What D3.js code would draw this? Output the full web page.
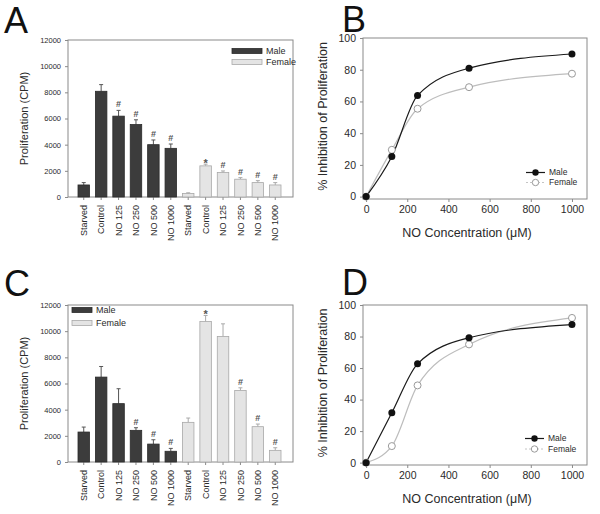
<!DOCTYPE html>
<html>
<head>
<meta charset="utf-8">
<script src="https://cdn.jsdelivr.net/npm/d3@7"></script>
<style>
  body { margin: 0; background: #fff; }
  svg { font-family: "Liberation Sans", Arial, sans-serif; }
</style>
</head>
<body>
<div id="chart"></div>
<script>
// bar categories
const barLabels = ["Starved", "Control", "NO 125", "NO 250", "NO 500", "NO 1000"];
const yTicksBar = [0, 2000, 4000, 6000, 8000, 10000, 12000];

// panel A
const aMale = [920, 8080, 6180, 5540, 4000, 3720];
const aMaleErr = [180, 510, 440, 360, 360, 330];
const aMaleMark = ["", "", "#", "#", "#", "#"];
const aFemale = [260, 2380, 1870, 1360, 1100, 920];
const aFemaleErr = [60, 130, 120, 120, 150, 180];
const aFemaleMark = ["", "*", "#", "#", "#", "#"];

// panel C
const cMale = [2290, 6490, 4460, 2420, 1370, 820];
const cMaleErr = [380, 810, 1140, 200, 330, 220];
const cMaleMark = ["", "", "", "#", "#", "#"];
const cFemale = [3030, 10740, 9600, 5470, 2700, 890];
const cFemaleErr = [330, 460, 960, 200, 200, 200];
const cFemaleMark = ["", "*", "", "#", "#", "#"];

// line panels
const conc = [0, 125, 250, 500, 1000];
const xTicksLine = [0, 200, 400, 600, 800, 1000];
const yTicksLine = [0, 20, 40, 60, 80, 100];
const bMale = [0, 25.3, 63.8, 81, 89.9];
const bFemale = [0, 29.5, 55.4, 69, 77.5];
const dMale = [0, 31.6, 62.7, 79.2, 87.6];
const dFemale = [0, 10.5, 49, 75, 91.8];

const svg = d3.select("#chart").append("svg")
    .attr("width", 600)
    .attr("height", 514);

const frameColor = "#8a8a8a";
const textColor = "#2a2a2a";
const fmt = d3.format("d");

function letter(txt, x, y) {
    svg.append("text")
        .attr("x", x).attr("y", y)
        .attr("font-size", 36)
        .attr("fill", "#111")
        .text(txt);
}

function barPanel(box, male, maleErr, maleMark, female, femaleErr, femaleMark, legendPos) {
    const g = svg.append("g");
    const vals = male.concat(female);
    const errs = maleErr.concat(femaleErr);
    const marks = maleMark.concat(femaleMark);
    const labels = barLabels.concat(barLabels);
    const idx = d3.range(vals.length);

    const x = d3.scaleBand().domain(idx).range([box.x0 + 10, box.x1 - 12])
        .paddingInner(0.34).paddingOuter(0);
    const y = d3.scaleLinear().domain([0, 12000]).range([box.y1, box.y0]);

    // frame
    g.append("rect")
        .attr("x", box.x0).attr("y", box.y0)
        .attr("width", box.x1 - box.x0).attr("height", box.y1 - box.y0)
        .attr("fill", "none").attr("stroke", frameColor).attr("stroke-width", 1);

    // axes
    const yAxis = g.append("g")
        .attr("transform", `translate(${box.x0},0)`)
        .call(d3.axisLeft(y).tickValues(yTicksBar).tickFormat(fmt).tickSize(3).tickPadding(4));
    yAxis.select(".domain").remove();
    yAxis.selectAll("line").attr("stroke", frameColor);
    yAxis.selectAll("text").attr("font-size", 7.5).attr("fill", textColor)
        .attr("font-family", "Liberation Sans, Arial, sans-serif");

    const xAxis = g.append("g")
        .attr("transform", `translate(0,${box.y1})`)
        .call(d3.axisBottom(x).tickSize(3).tickFormat(i => labels[i]));
    xAxis.select(".domain").remove();
    xAxis.selectAll("line").attr("stroke", frameColor);
    xAxis.selectAll("text")
        .attr("font-size", 9).attr("fill", textColor)
        .attr("font-family", "Liberation Sans, Arial, sans-serif")
        .attr("transform", "rotate(-90)")
        .attr("x", -8).attr("y", 0).attr("dy", "0.35em")
        .style("text-anchor", "end");

    // y title
    g.append("text")
        .attr("transform", `translate(${box.x0 - 40},${(box.y0 + box.y1) / 2}) rotate(-90)`)
        .attr("text-anchor", "middle")
        .attr("font-size", 11).attr("fill", textColor)
        .text("Proliferation (CPM)");

    const isMale = i => i < male.length;

    // error bars
    g.selectAll(".err").data(idx).enter().append("path")
        .attr("class", "err")
        .attr("d", i => {
            const cx = x(i) + x.bandwidth() / 2;
            const t = y(vals[i] + errs[i]);
            return `M${cx},${y(vals[i])}V${t}M${cx - 2},${t}H${cx + 2}`;
        })
        .attr("stroke", i => isMale(i) ? "#555" : "#aaa")
        .attr("fill", "none");

    // bars
    g.selectAll(".bar").data(idx).enter().append("rect")
        .attr("class", "bar")
        .attr("x", i => x(i))
        .attr("y", i => y(vals[i]))
        .attr("width", x.bandwidth())
        .attr("height", i => box.y1 - y(vals[i]))
        .attr("fill", i => isMale(i) ? "#3c3c3c" : "#e4e4e4")
        .attr("stroke", i => isMale(i) ? "#2a2a2a" : "#a8a8a8")
        .attr("stroke-width", 0.8);

    // significance marks
    g.selectAll(".mark").data(idx.filter(i => marks[i])).enter().append("text")
        .attr("class", "mark")
        .attr("x", i => x(i) + x.bandwidth() / 2)
        .attr("y", i => y(vals[i] + errs[i]) - (marks[i] === "*" ? -3 : 3))
        .attr("text-anchor", "middle")
        .attr("font-size", i => marks[i] === "*" ? 11 : 9)
        .attr("font-weight", "bold")
        .attr("fill", "#555")
        .text(i => marks[i]);

    // legend
    const leg = g.append("g").attr("transform", `translate(${legendPos[0]},${legendPos[1]})`);
    [["Male", "#3c3c3c", "#2a2a2a"], ["Female", "#e4e4e4", "#a8a8a8"]].forEach((d, k) => {
        leg.append("rect")
            .attr("x", 0).attr("y", k * legendPos[3] - 2.5)
            .attr("width", legendPos[2]).attr("height", 5)
            .attr("fill", d[1]).attr("stroke", d[2]).attr("stroke-width", 0.8);
        leg.append("text")
            .attr("x", legendPos[2] + 4).attr("y", k * legendPos[3])
            .attr("dy", "0.35em")
            .attr("font-size", 9).attr("fill", textColor)
            .text(d[0]);
    });
}

function linePanel(box, male, female, legendPos) {
    const g = svg.append("g");
    const x = d3.scaleLinear().domain([-15, 1073]).range([box.x0, box.x1]);
    const y = d3.scaleLinear().domain([-1.5, 100]).range([box.y1, box.y0]);

    g.append("rect")
        .attr("x", box.x0).attr("y", box.y0)
        .attr("width", box.x1 - box.x0).attr("height", box.y1 - box.y0)
        .attr("fill", "none").attr("stroke", frameColor).attr("stroke-width", 1);

    const xAxis = g.append("g")
        .attr("transform", `translate(0,${box.y1})`)
        .call(d3.axisBottom(x).tickValues(xTicksLine).tickFormat(fmt).tickSize(3).tickPadding(4));
    xAxis.select(".domain").remove();
    xAxis.selectAll("line").attr("stroke", frameColor);
    xAxis.selectAll("text").attr("font-size", 10.5).attr("fill", textColor)
        .attr("font-family", "Liberation Sans, Arial, sans-serif");

    const yAxis = g.append("g")
        .attr("transform", `translate(${box.x0},0)`)
        .call(d3.axisLeft(y).tickValues(yTicksLine).tickFormat(fmt).tickSize(3).tickPadding(4));
    yAxis.select(".domain").remove();
    yAxis.selectAll("line").attr("stroke", frameColor);
    yAxis.selectAll("text").attr("font-size", 10.5).attr("fill", textColor)
        .attr("font-family", "Liberation Sans, Arial, sans-serif");

    g.append("text")
        .attr("x", (box.x0 + box.x1) / 2 - 8)
        .attr("y", box.y1 + 38)
        .attr("text-anchor", "middle")
        .attr("font-size", 12.5).attr("fill", textColor)
        .text("NO Concentration (\u03BCM)");

    g.append("text")
        .attr("transform", `translate(${box.x0 - 36},${(box.y0 + box.y1) / 2 - 2}) rotate(-90)`)
        .attr("text-anchor", "middle")
        .attr("font-size", 12.5).attr("fill", textColor)
        .text("% Inhibition of Proliferation");

    const line = d3.line()
        .x((d, i) => x(conc[i]))
        .y(d => y(d))
        .curve(d3.curveMonotoneX);

    g.append("path").datum(female)
        .attr("d", line).attr("fill", "none")
        .attr("stroke", "#bdbdbd").attr("stroke-width", 1.2);
    g.append("path").datum(male)
        .attr("d", line).attr("fill", "none")
        .attr("stroke", "#1a1a1a").attr("stroke-width", 1.2);

    g.selectAll(".fdot").data(female).enter().append("circle")
        .attr("cx", (d, i) => x(conc[i])).attr("cy", d => y(d))
        .attr("r", 3.5).attr("fill", "#fff").attr("stroke", "#9a9a9a").attr("stroke-width", 1);
    g.selectAll(".mdot").data(male).enter().append("circle")
        .attr("cx", (d, i) => x(conc[i])).attr("cy", d => y(d))
        .attr("r", 3.5).attr("fill", "#111");

    // legend
    const leg = g.append("g").attr("transform", `translate(${legendPos[0]},${legendPos[1]})`);
    leg.append("line").attr("x1", 0).attr("x2", 19).attr("y1", 0).attr("y2", 0)
        .attr("stroke", "#1a1a1a").attr("stroke-width", 1.2);
    leg.append("circle").attr("cx", 9.5).attr("cy", 0).attr("r", 3.2).attr("fill", "#111");
    leg.append("line").attr("x1", 0).attr("x2", 19).attr("y1", legendPos[2]).attr("y2", legendPos[2])
        .attr("stroke", "#c4c4c4").attr("stroke-width", 1).attr("stroke-dasharray", "2,2");
    leg.append("circle").attr("cx", 9.5).attr("cy", legendPos[2]).attr("r", 3.2)
        .attr("fill", "#fff").attr("stroke", "#9a9a9a");
    ["Male", "Female"].forEach((t, k) => {
        leg.append("text")
            .attr("x", 23).attr("y", k * legendPos[2]).attr("dy", "0.35em")
            .attr("font-size", 8.5).attr("fill", textColor)
            .text(t);
    });
}

letter("A", 4, 33);
letter("B", 342, 32);
letter("C", 4, 296);
letter("D", 342, 295);

barPanel({ x0: 68, x1: 293, y0: 40, y1: 197 },
    aMale, aMaleErr, aMaleMark, aFemale, aFemaleErr, aFemaleMark, [232, 51, 30, 11]);
barPanel({ x0: 68, x1: 293, y0: 305, y1: 462 },
    cMale, cMaleErr, cMaleMark, cFemale, cFemaleErr, cFemaleMark, [72, 310, 20, 13]);

linePanel({ x0: 363, x1: 587, y0: 38, y1: 199 }, bMale, bFemale, [526, 172.5, 10]);
linePanel({ x0: 363, x1: 587, y0: 305, y1: 465 }, dMale, dFemale, [525, 438.5, 10.5]);
</script>
</body>
</html>
